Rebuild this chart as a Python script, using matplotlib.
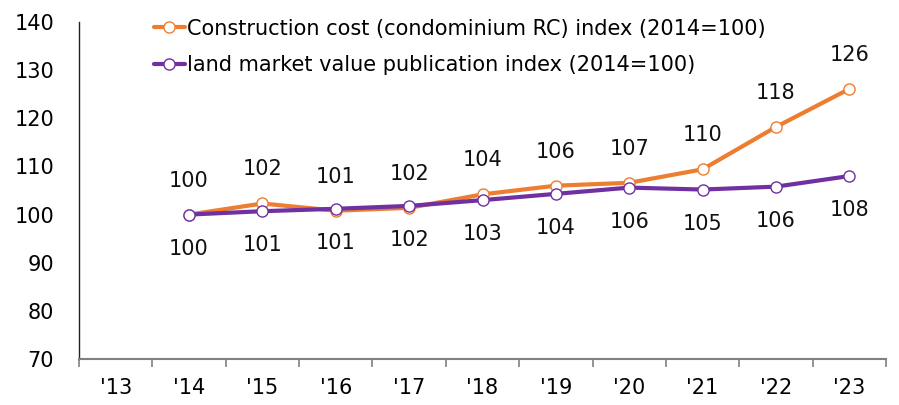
import matplotlib
matplotlib.use("Agg")
import matplotlib.pyplot as plt
import numpy as np

years = ["'13", "'14", "'15", "'16", "'17", "'18", "'19", "'20", "'21", "'22", "'23"]
cost_years = ["'14", "'15", "'16", "'17", "'18", "'19", "'20", "'21", "'22", "'23"]
cost_values = [100.0, 102.3, 100.8, 101.4, 104.2, 106.0, 106.6, 109.4, 118.2, 126.1]
cost_labels = ["100", "102", "101", "102", "104", "106", "107", "110", "118", "126"]
land_values = [100.0, 100.7, 101.2, 101.8, 103.0, 104.3, 105.6, 105.2, 105.8, 108.0]
land_labels = ["100", "101", "101", "102", "103", "104", "106", "105", "106", "108"]
yticks = [70, 80, 90, 100, 110, 120, 130, 140]

ORANGE = "#ED7D31"
PURPLE = "#7030A0"
FS = 15

plt.rcParams['font.family'] = ['DejaVu Sans']
fig = plt.figure(figsize=(8.99, 4.05), dpi=100)
ax = fig.add_axes([79/899, 1-359/405, (886-79)/899, (359-22)/405])

xpos = {y: i for i, y in enumerate(years)}
xc = [xpos[y] for y in cost_years]

ax.plot(xc, cost_values, color=ORANGE, lw=3, marker='o', ms=8,
        mfc='white', mec=ORANGE, mew=1.0, solid_capstyle='round',
        label="Construction cost (condominium RC) index (2014=100)", zorder=3)
ax.plot(xc, land_values, color=PURPLE, lw=3, marker='o', ms=8,
        mfc='white', mec=PURPLE, mew=1.0, solid_capstyle='round',
        label="land market value publication index (2014=100)", zorder=4)

for x, v, t in zip(xc, cost_values, cost_labels):
    ax.annotate(t, (x, v), xytext=(0, 34), textcoords='offset pixels',
                ha='center', va='center', fontsize=FS, color='#111111')
for x, v, t in zip(xc, land_values, land_labels):
    ax.annotate(t, (x, v), xytext=(0, -34), textcoords='offset pixels',
                ha='center', va='center', fontsize=FS, color='#111111')

ax.set_xlim(-0.5, len(years) - 0.5)
ax.set_ylim(70, 140)
ax.set_yticks(yticks)
ax.set_yticklabels([str(t) for t in yticks], fontsize=FS)
ax.tick_params(axis='y', length=0, pad=18)

ax.set_xticks(np.arange(-0.5, len(years), 1.0))
ax.set_xticklabels([])
ax.set_xticks(np.arange(len(years)), minor=True)
ax.set_xticklabels(years, minor=True, fontsize=FS)
ax.tick_params(axis='x', which='major', length=6, color='#808080', width=1.2)
ax.tick_params(axis='x', which='minor', length=0, pad=14)

for s in ['top', 'right']:
    ax.spines[s].set_visible(False)
ax.spines['left'].set_color('#222222')
ax.spines['left'].set_linewidth(1.0)
ax.spines['bottom'].set_color('#808080')
ax.spines['bottom'].set_linewidth(1.5)

leg = ax.legend(loc='upper left', bbox_to_anchor=(0.082, 1.035), frameon=False,
                fontsize=FS, handlelength=1.5, handletextpad=0.1,
                labelspacing=0.8, borderaxespad=0)

fig.savefig("out.png", dpi=100)
